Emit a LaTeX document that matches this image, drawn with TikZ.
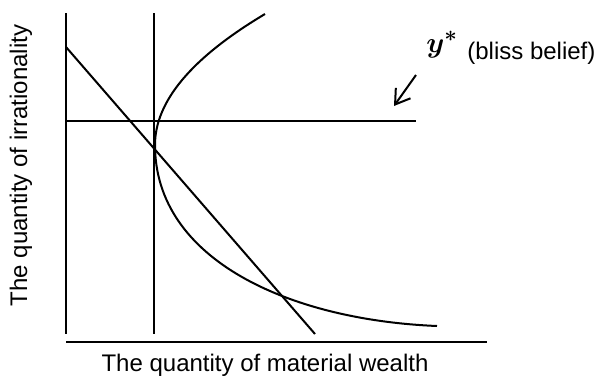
\documentclass[tikz,border=0pt]{standalone}
\usepackage{amsmath}
\usepackage{fontspec}
\setmainfont{Liberation Sans}
\usetikzlibrary{arrows.meta}

\begin{document}
\begin{tikzpicture}[
  x=0.5pt, y=-0.5pt,
  ln/.style={line width=1pt},
  lbl/.style={font=\fontsize{12}{14}\selectfont, inner sep=0pt},
  arr/.style={line width=1pt, -{Straight Barb[length=7pt, width=9pt, line width=1pt]}}]
\useasboundingbox (0,0) rectangle (596,376);
% axes
\coordinate (ytop) at (66,13);
\coordinate (ybot) at (66,334);
\coordinate (xleft) at (66,342);
\coordinate (xright) at (487,342);
\draw[ln] (ytop) -- (ybot);
\draw[ln] (xleft) -- (xright);
% vertical and horizontal reference lines
\coordinate (vtop) at (154,13);
\coordinate (vbot) at (154,334);
\coordinate (hleft) at (66,121);
\coordinate (hright) at (416,121);
\draw[ln] (vtop) -- (vbot);
\draw[ln] (hleft) -- (hright);
% straight line
\coordinate (dtop) at (66,47);
\coordinate (dbot) at (315,334);
\draw[ln] (dtop) -- (dbot);
% curve
\coordinate (ctop) at (265,14);
\coordinate (cvert) at (155,145);
\coordinate (cend) at (437,326);
\draw[ln] (ctop) .. controls (191.7,57.7) and (155,101.3) .. (cvert)
  .. controls (155,260) and (290,320) .. (cend);
% labels
\node[lbl, anchor=base] (xlab) at (265,371) {The quantity of material wealth};
\node[lbl, anchor=base, rotate=90] (ylab) at (27,165.5) {The quantity of irrationality};
\node[lbl, anchor=base west] (bliss) at (467,59) {(bliss belief)};
\node[lbl, anchor=base west, font=\fontsize{15}{17}\selectfont] (ystar) at (426,52) {$\boldsymbol{y}^{\boldsymbol{\ast}}$};
\coordinate (atail) at (416,75);
\coordinate (atip) at (394,106);
\draw[arr] (atail) -- (atip);
\end{tikzpicture}
\end{document}
